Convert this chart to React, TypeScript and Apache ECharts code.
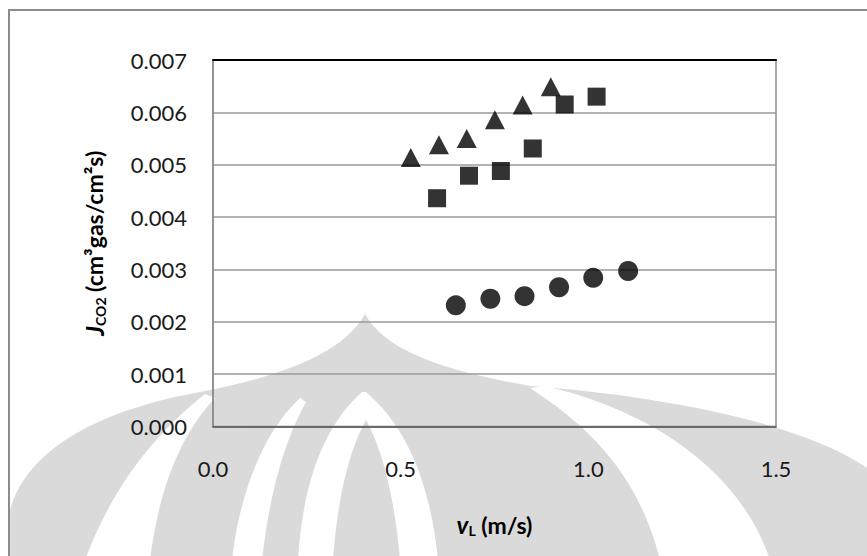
import React, { useEffect, useRef } from "react";
import * as echarts from "echarts";

// ---- data ----
const xTickFormat = (v: number) => v.toFixed(1);
const yTickFormat = (v: number) => v.toFixed(3);

const triV = [0.527, 0.602, 0.676, 0.751, 0.825, 0.9];
const triJ = [0.00514, 0.00538, 0.0055, 0.00586, 0.00614, 0.00649];

const sqV = [0.597, 0.682, 0.767, 0.852, 0.937, 1.022];
const sqJ = [0.00436, 0.00479, 0.00488, 0.00531, 0.00615, 0.0063];

const cirV = [0.647, 0.739, 0.83, 0.922, 1.013, 1.106];
const cirJ = [0.002315, 0.00244, 0.00249, 0.00266, 0.00284, 0.00297];

const pairs = (xs: number[], ys: number[]) => xs.map((x, i) => [x, ys[i]]);

// ---- watermark shapes ----
const WM_DOME =
  "M365,314 C345,350 290,375 200,392 C100,410 20,450 8,520 L8,560 L870,560 L870,470 C800,420 650,395 530,386 C440,370 385,350 365,314 Z";
const WM_LEFT_BAND =
  "M205,394 C160,430 115,480 85,560 L150,560 C160,480 185,430 215,398 Z";
const WM_RIGHT_BAND =
  "M530,388 C595,430 640,480 660,560 L770,560 C740,470 650,410 545,386 Z";
const WM_CENTER =
  "M362,392 C325,425 303,480 298,560 L333,560 C338,490 352,445 366,420 C380,445 394,490 400,560 L438,560 C430,480 405,425 366,392 Z";
const WM_LEFT_INNER =
  "M300,398 C265,430 240,490 232,560 L262,560 C270,490 285,440 306,402 Z";

let registered = false;
function registerShapes() {
  if (registered) return;
  registered = true;
  echarts.graphic.registerShape("wmDome", echarts.graphic.extendPath(WM_DOME, {}) as any);
  echarts.graphic.registerShape("wmLeft", echarts.graphic.extendPath(WM_LEFT_BAND, {}) as any);
  echarts.graphic.registerShape("wmRight", echarts.graphic.extendPath(WM_RIGHT_BAND, {}) as any);
  echarts.graphic.registerShape("wmCenter", echarts.graphic.extendPath(WM_CENTER, {}) as any);
  echarts.graphic.registerShape("wmLeftInner", echarts.graphic.extendPath(WM_LEFT_INNER, {}) as any);
}

const FONT = "Lato, 'Open Sans', sans-serif";

export default function App() {
  const ref = useRef<HTMLDivElement>(null);

  useEffect(() => {
    if (!ref.current) return;
    registerShapes();
    const chart = echarts.init(ref.current, undefined, { renderer: "svg" });

    const markerStyle = { color: "#000" };

    chart.setOption({
      animation: false,
      backgroundColor: "#ffffff",
      textStyle: { fontFamily: FONT },
      graphic: [
        { type: "wmDome", z: -10, silent: true, style: { fill: "#dadada" } },
        { type: "wmLeft", z: -9, silent: true, style: { fill: "#ffffff" } },
        { type: "wmRight", z: -9, silent: true, style: { fill: "#ffffff" } },
        { type: "wmCenter", z: -9, silent: true, style: { fill: "#ffffff" } },
        { type: "wmLeftInner", z: -9, silent: true, style: { fill: "#ffffff" } },
        {
          type: "rect",
          z: -5,
          silent: true,
          shape: { x: 9, y: 10, width: 900, height: 600 },
          style: { fill: "none", stroke: "#8c8c8c", lineWidth: 2 },
        },
      ],
      grid: {
        left: 213,
        top: 60,
        right: 91,
        bottom: 129.5,
        show: true,
        borderColor: "#8c8c8c",
        borderWidth: 1.5,
        backgroundColor: "transparent",
        outerBoundsMode: "none",
        containLabel: false,
      },
      xAxis: [
        {
          type: "value",
          position: "bottom",
          min: 0,
          max: 1.5,
          interval: 0.5,
          axisLine: { show: true, onZero: false, lineStyle: { color: "#595959", width: 1.5 } },
          axisTick: { show: false },
          splitLine: { show: false },
          axisLabel: {
            formatter: xTickFormat,
            margin: 31,
            fontSize: 22,
            fontFamily: FONT,
            color: "#1a1a1a",
          },
          name: "{v|v}{sub|L}{t| (m/s)}",
          nameLocation: "middle",
          nameGap: 85,
          nameTextStyle: {
            rich: {
              v: { fontSize: 24, fontWeight: "bold", fontStyle: "italic", fontFamily: FONT, color: "#000" },
              sub: { fontSize: 14, fontWeight: "bold", fontFamily: FONT, color: "#000", padding: [12, 0, 0, 0] },
              t: { fontSize: 23, fontWeight: "bold", fontFamily: FONT, color: "#000" },
            },
          },
        },
        {
          type: "value",
          position: "top",
          min: 0,
          max: 1.5,
          interval: 0.5,
          axisLine: { show: true, onZero: false, lineStyle: { color: "#000", width: 2 } },
          axisTick: { show: false },
          axisLabel: { show: false },
          splitLine: { show: false },
        },
      ],
      yAxis: {
        type: "value",
        min: 0,
        max: 0.007,
        interval: 0.001,
        axisLine: { show: true, onZero: false, lineStyle: { color: "#8c8c8c", width: 1.5 } },
        axisTick: { show: false },
        splitLine: { show: true, lineStyle: { color: "#9a9a9a", width: 1.5 } },
        axisLabel: {
          formatter: yTickFormat,
          margin: 26,
          fontSize: 22,
          fontFamily: FONT,
          color: "#1a1a1a",
        },
        name: "{j|J}{sub|CO2}{t| (cm³gas/cm²s)}",
        nameLocation: "middle",
        nameRotate: 90,
        nameGap: 106,
        nameTextStyle: {
          rich: {
            j: { fontSize: 24, fontWeight: "bold", fontStyle: "italic", fontFamily: FONT, color: "#000" },
            sub: { fontSize: 14, fontWeight: "bold", fontFamily: FONT, color: "#000", padding: [12, 0, 0, 0] },
            t: { fontSize: 23, fontWeight: "bold", fontFamily: FONT, color: "#000" },
          },
        },
      },
      series: [
        {
          name: "triangle",
          type: "scatter",
          data: pairs(triV, triJ),
          symbol: "triangle",
          symbolSize: [20, 19],
          itemStyle: markerStyle,
          z: 5,
        },
        {
          name: "square",
          type: "scatter",
          data: pairs(sqV, sqJ),
          symbol: "rect",
          symbolSize: 18,
          itemStyle: markerStyle,
          z: 5,
        },
        {
          name: "circle",
          type: "scatter",
          data: pairs(cirV, cirJ),
          symbol: "circle",
          symbolSize: 20,
          itemStyle: markerStyle,
          z: 5,
        },
      ],
    });

    return () => chart.dispose();
  }, []);

  return (
    <div
      ref={ref}
      style={{ position: "fixed", left: 0, top: 0, width: 867, height: 556 }}
    />
  );
}
